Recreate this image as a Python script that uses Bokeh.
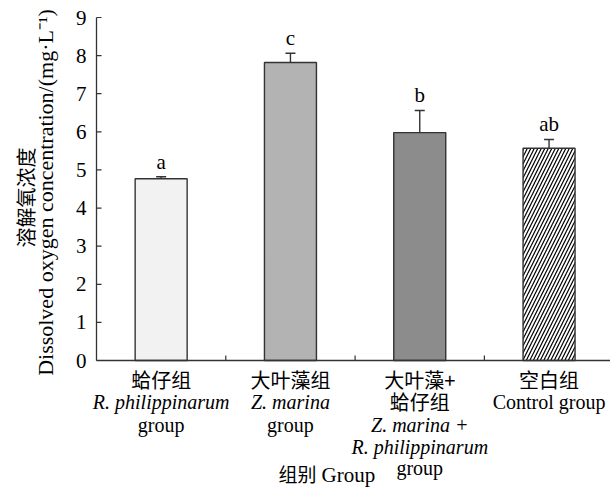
import math
from bokeh.plotting import figure
from bokeh.models import Range1d, Whisker, TeeHead, ColumnDataSource
from bokeh.core.properties import value
from bokeh.embed import file_html
from bokeh.resources import INLINE

# ---- data ----
groups = ["蛤仔组", "大叶藻组", "大叶藻+蛤仔组", "空白组"]
means = [4.77, 7.82, 5.98, 5.57]
errors = [0.05, 0.24, 0.58, 0.23]
letters = ["a", "c", "b", "ab"]
fills = ["#f2f2f2", "#b3b3b3", "#8c8c8c", "#ffffff"]
hatches = [" ", " ", " ", "/"]
y_ticks = [0, 1, 2, 3, 4, 5, 6, 7, 8, 9]
x_boundaries = [1, 2, 3]
cat_lines = [
    [("蛤仔组", "normal"), ("R. philippinarum", "italic"), ("group", "normal")],
    [("大叶藻组", "normal"), ("Z. marina", "italic"), ("group", "normal")],
    [("大叶藻+", "normal"), ("蛤仔组", "normal"), ("Z. marina +", "italic"),
     ("R. philippinarum", "italic"), ("group", "normal")],
    [("空白组", "normal"), ("Control group", "normal")],
]
x_title_cn = "组别"
x_title_en = "Group"
y_title_cn = "溶解氧浓度"
y_title_en = "Dissolved oxygen concentration/(mg·L⁻¹)"

SERIF = "Liberation Serif"
CJK = "Noto Sans CJK SC"
INK = "#333333"

def font_for(t):
    return CJK if any(ord(c) > 0x2E80 for c in t) else SERIF

# ---- layout (pixels) ----
W, H = 610, 488
AX_X = 96        # page x of y axis
AX_Y = 360       # page y of x axis
PX_PER_X = 129.3
PX_PER_Y = (360 - 17) / 9.0

def dx(px):      # page x -> data x
    return (px - AX_X) / PX_PER_X
def dy(py):      # page y -> data y
    return (AX_Y - py) / PX_PER_Y

p = figure(width=W, height=H, output_backend="svg", toolbar_location=None,
           x_range=Range1d(dx(0), dx(W)), y_range=Range1d(dy(H), dy(0)),
           x_axis_location=None, y_axis_location=None, min_border=0)
p.outline_line_color = None
p.grid.visible = False
p.background_fill_color = "white"
p.border_fill_color = "white"

xs = [i + 0.5 for i in range(len(groups))]
src = ColumnDataSource(dict(x=xs, top=means, fill=fills, hatch=hatches,
                            upper=[m + e for m, e in zip(means, errors)],
                            lab=letters,
                            ly=[m + e + 15 / PX_PER_Y for m, e in zip(means, errors)]))

p.vbar(x="x", top="top", width=52 / PX_PER_X, bottom=0, source=src,
       fill_color="fill", line_color=INK, line_width=1.4,
       hatch_pattern="hatch", hatch_color="#000000", hatch_scale=7, hatch_weight=1.2)

wh = Whisker(base="x", lower="top", upper="upper", source=src,
             line_color=INK, line_width=1.4,
             upper_head=TeeHead(size=10, line_color=INK, line_width=1.4),
             lower_head=None)
p.add_layout(wh)

p.text(x="x", y="ly", text="lab", source=src, text_align="center",
       text_baseline="middle", text_font=value(SERIF), text_font_size="21px",
       text_color="#000000")

# ---- axes drawn through the data scales ----
ymin, ymax = min(y_ticks), max(y_ticks)
p.segment(x0=[0], y0=[ymin], x1=[0], y1=[ymax], line_color=INK, line_width=1.3)
p.segment(x0=[0], y0=[0], x1=[dx(W)], y1=[0], line_color=INK, line_width=1.3)
p.segment(x0=[0] * len(y_ticks), y0=y_ticks, x1=[dx(AX_X + 5)] * len(y_ticks), y1=y_ticks,
          line_color=INK, line_width=1.2)
p.segment(x0=x_boundaries, y0=[0] * len(x_boundaries), x1=x_boundaries,
          y1=[dy(AX_Y - 5)] * len(x_boundaries), line_color=INK, line_width=1.2)
p.text(x=[dx(AX_X - 10)] * len(y_ticks), y=y_ticks, text=[str(t) for t in y_ticks],
       text_align="right", text_baseline="middle", text_font=value(SERIF),
       text_font_size="21px", text_color="#000000")

# ---- category labels ----
row_py = [379, 401, 424, 446, 467]
cx, cy, ct, cs, cf = [], [], [], [], []
for i, lines in enumerate(cat_lines):
    for j, (t, style) in enumerate(lines):
        cx.append(xs[i]); cy.append(dy(row_py[j])); ct.append(t); cs.append(style)
        cf.append(font_for(t))
csrc = ColumnDataSource(dict(x=cx, y=cy, text=ct, style=cs, font=cf))
p.text(x="x", y="y", text="text", text_font_style="style", text_font="font", source=csrc,
       text_align="center", text_baseline="middle", text_font_size="20px",
       text_color="#000000")

# ---- axis titles ----
p.text(x=[dx(316)], y=[dy(473)], text=[x_title_cn], text_align="right",
       text_baseline="middle", text_font=value(CJK), text_font_size="19px",
       text_color="#000000")
p.text(x=[dx(321)], y=[dy(474)], text=[x_title_en], text_align="left",
       text_baseline="middle", text_font=value(SERIF), text_font_size="21px",
       text_color="#000000")

p.text(x=[dx(25)], y=[dy(197)], text=[y_title_cn],
       angle=math.pi / 2, text_align="center", text_baseline="middle",
       text_font=value(CJK), text_font_size="20px", text_color="#000000")
p.text(x=[dx(45)], y=[dy(192)], text=[y_title_en],
       angle=math.pi / 2, text_align="center", text_baseline="middle",
       text_font=value(SERIF), text_font_size="22px", text_color="#000000")

open("out.html", "w").write(file_html(p, INLINE))
